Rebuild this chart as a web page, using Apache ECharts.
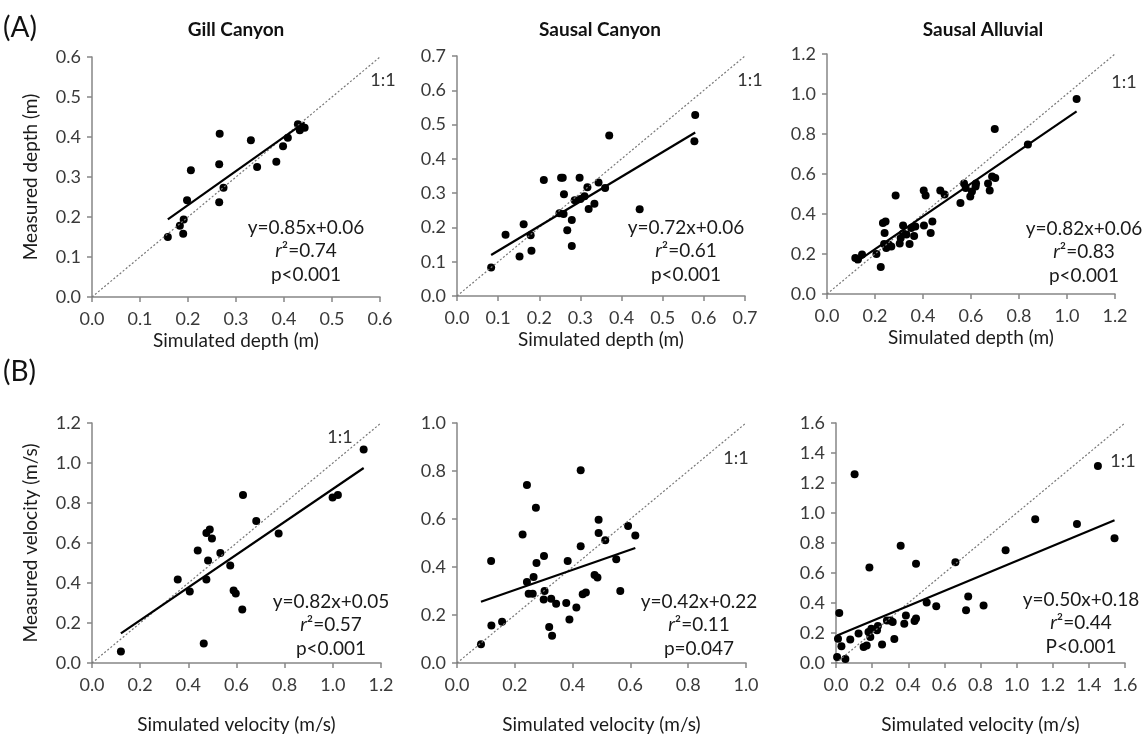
<!DOCTYPE html>
<html><head><meta charset="utf-8">
<script src="https://cdn.jsdelivr.net/npm/echarts@6/dist/echarts.min.js"></script>
<style>html,body{margin:0;padding:0;background:#fff}#c{width:1146px;height:737px}</style>
</head><body><div id="c"></div>
<script>
// ---- data ----
const siteTitles = ['Gill Canyon', 'Sausal Canyon', 'Sausal Alluvial'];
const rowLabels = ['(A)', '(B)'];
const xNames = ['Simulated depth (m)', 'Simulated velocity (m/s)'];
const yNames = ['Measured depth (m)', 'Measured velocity (m/s)'];

const gillDepthSim  = [0.158,0.183,0.190,0.191,0.198,0.206,0.265,0.266,0.265,0.274,0.331,0.344,0.384,0.398,0.408,0.429,0.433,0.443];
const gillDepthMeas = [0.150,0.178,0.158,0.194,0.242,0.317,0.332,0.408,0.237,0.273,0.392,0.325,0.338,0.377,0.398,0.432,0.417,0.423];

const sausalCanyonDepthSim  = [0.083,0.118,0.152,0.162,0.179,0.181,0.211,0.249,0.253,0.257,0.259,0.260,0.268,0.279,0.279,0.286,0.298,0.300,0.310,0.317,0.320,0.334,0.344,0.360,0.370,0.444,0.577,0.579];
const sausalCanyonDepthMeas = [0.083,0.179,0.115,0.209,0.177,0.132,0.338,0.241,0.345,0.345,0.239,0.297,0.192,0.222,0.146,0.279,0.345,0.283,0.291,0.317,0.254,0.269,0.331,0.315,0.468,0.253,0.451,0.528];

const sausalAlluvialDepthSim  = [0.118,0.129,0.146,0.206,0.224,0.233,0.244,0.240,0.238,0.247,0.257,0.268,0.286,0.303,0.307,0.317,0.317,0.331,0.344,0.351,0.363,0.368,0.404,0.403,0.411,0.432,0.439,0.472,0.490,0.556,0.571,0.578,0.597,0.604,0.619,0.621,0.671,0.678,0.688,0.701,0.699,0.837,1.040];
const sausalAlluvialDepthMeas = [0.180,0.172,0.197,0.200,0.135,0.355,0.363,0.305,0.250,0.230,0.247,0.238,0.493,0.252,0.280,0.342,0.302,0.297,0.250,0.330,0.290,0.338,0.342,0.518,0.492,0.305,0.363,0.518,0.497,0.455,0.552,0.530,0.488,0.513,0.537,0.553,0.552,0.518,0.588,0.580,0.825,0.747,0.975];

const gillVelSim  = [0.120,0.356,0.406,0.439,0.464,0.475,0.482,0.475,0.489,0.498,0.533,0.574,0.588,0.597,0.624,0.627,0.682,0.775,0.999,1.021,1.128];
const gillVelMeas = [0.058,0.417,0.358,0.563,0.097,0.650,0.513,0.417,0.668,0.622,0.550,0.488,0.363,0.347,0.268,0.840,0.710,0.647,0.828,0.840,1.067];

const sausalCanyonVelSim  = [0.083,0.118,0.119,0.156,0.227,0.242,0.242,0.248,0.262,0.265,0.273,0.275,0.301,0.303,0.300,0.319,0.326,0.329,0.343,0.378,0.383,0.389,0.413,0.428,0.428,0.435,0.446,0.476,0.486,0.490,0.490,0.513,0.551,0.565,0.592,0.617];
const sausalCanyonVelMeas = [0.078,0.425,0.156,0.172,0.535,0.742,0.338,0.289,0.289,0.358,0.647,0.417,0.446,0.300,0.265,0.150,0.268,0.114,0.247,0.250,0.425,0.181,0.231,0.803,0.486,0.286,0.294,0.367,0.356,0.597,0.542,0.511,0.432,0.300,0.571,0.531];

const sausalAlluvialVelSim  = [0.006,0.011,0.018,0.030,0.052,0.079,0.103,0.125,0.153,0.170,0.180,0.185,0.190,0.196,0.227,0.232,0.255,0.282,0.301,0.314,0.323,0.358,0.378,0.387,0.435,0.443,0.443,0.502,0.555,0.661,0.720,0.732,0.817,0.939,1.103,1.334,1.450,1.542];
const sausalAlluvialVelMeas = [0.040,0.162,0.333,0.111,0.027,0.156,1.258,0.196,0.107,0.116,0.207,0.636,0.173,0.229,0.218,0.247,0.124,0.284,0.284,0.273,0.160,0.782,0.262,0.316,0.280,0.296,0.662,0.404,0.378,0.671,0.351,0.444,0.384,0.751,0.958,0.927,1.313,0.831];

const fitSlopes     = [0.85, 0.72, 0.82, 0.82, 0.42, 0.50];
const fitIntercepts = [0.06, 0.06, 0.06, 0.05, 0.22, 0.18];
const fitEquations  = ['y=0.85x+0.06','y=0.72x+0.06','y=0.82x+0.06','y=0.82x+0.05','y=0.42x+0.22','y=0.50x+0.18'];
const fitR2         = ['0.74','0.61','0.83','0.57','0.11','0.44'];
const fitP          = ['p<0.001','p<0.001','p<0.001','p<0.001','p=0.047','P<0.001'];

const axisMax      = [0.6, 0.7, 1.2, 1.2, 1.0, 1.6];
const axisInterval = [0.1, 0.1, 0.2, 0.2, 0.2, 0.2];

// ---- layout (pixels) ----
const grids = [
  {left: 92,  top: 57,  width: 288, height: 240},
  {left: 457, top: 56,  width: 288, height: 240},
  {left: 827, top: 54,  width: 288, height: 240},
  {left: 92,  top: 423, width: 289, height: 240},
  {left: 457, top: 423, width: 289, height: 240},
  {left: 836, top: 423, width: 289, height: 240}
];
const statPos = [[306,228],[686,228],[1084,229],[331,602],[699,602],[1081,600]];
const onePos  = [[383,80],[750,80],[1124,82],[340,437],[736,458],[1123,461]];

const panels = [
  [gillDepthSim, gillDepthMeas],
  [sausalCanyonDepthSim, sausalCanyonDepthMeas],
  [sausalAlluvialDepthSim, sausalAlluvialDepthMeas],
  [gillVelSim, gillVelMeas],
  [sausalCanyonVelSim, sausalCanyonVelMeas],
  [sausalAlluvialVelSim, sausalAlluvialVelMeas]
];

const FONT = 'Lato';
const LABEL_COLOR = '#3a3a3a';
const AXIS_COLOR = '#868686';

const option = {
  backgroundColor: '#fff',
  animation: false,
  textStyle: {fontFamily: FONT},
  grid: grids.map(g => Object.assign({containLabel: false}, g)),
  xAxis: [], yAxis: [], series: [], graphic: []
};

panels.forEach((p, i) => {
  const row = i < 3 ? 0 : 1;
  const axisCommon = {
    gridIndex: i, type: 'value', min: 0, max: axisMax[i], interval: axisInterval[i],
    splitLine: {show: false},
    axisLine: {show: true, onZero: false, lineStyle: {color: AXIS_COLOR, width: 1.5}},
    axisTick: {show: true, inside: false, length: 5, lineStyle: {color: AXIS_COLOR, width: 1.5}},
    axisLabel: {color: LABEL_COLOR, fontSize: 18, fontFamily: FONT, margin: 13,
      formatter: v => v.toFixed(1)}
  };
  option.xAxis.push(Object.assign({}, axisCommon, {
    name: xNames[row], nameLocation: 'middle', nameGap: row === 0 ? 34 : 52,
    nameTextStyle: {color: '#1a1a1a', fontSize: 19, fontFamily: FONT}
  }));
  option.yAxis.push(Object.assign({}, axisCommon, {
    axisLabel: Object.assign({}, axisCommon.axisLabel, {margin: 11}),
    name: (i % 3 === 0) ? yNames[row] : '', nameLocation: 'middle', nameGap: 52,
    nameTextStyle: {color: '#1a1a1a', fontSize: 19, fontFamily: FONT}
  }));
  // 1:1 line
  option.series.push({
    type: 'line', xAxisIndex: i, yAxisIndex: i, symbol: 'none', silent: true,
    lineStyle: {color: '#777', width: 1.2, type: [2, 2]},
    data: [[0, 0], [axisMax[i], axisMax[i]]]
  });
  // regression line over the data's x range
  const xs = p[0];
  const xmin = Math.min(...xs), xmax = Math.max(...xs);
  option.series.push({
    type: 'line', xAxisIndex: i, yAxisIndex: i, symbol: 'none', silent: true,
    lineStyle: {color: '#000', width: 2.2},
    data: [[xmin, fitSlopes[i] * xmin + fitIntercepts[i]], [xmax, fitSlopes[i] * xmax + fitIntercepts[i]]]
  });
  // points
  option.series.push({
    type: 'scatter', xAxisIndex: i, yAxisIndex: i, symbol: 'circle', symbolSize: 8,
    itemStyle: {color: '#000', opacity: 1},
    data: xs.map((x, k) => [x, p[1][k]])
  });
  // stats text
  option.graphic.push({
    type: 'text', x: statPos[i][0], y: statPos[i][1] - 12,
    style: {
      text: '{n|' + fitEquations[i] + '}\n{it|r}{n|²=' + fitR2[i] + '}\n{n|' + fitP[i] + '}',
      align: 'center', verticalAlign: 'top',
      rich: {
        n: {fontSize: 19, fontFamily: FONT, fill: '#1a1a1a', lineHeight: 23.5},
        it: {fontSize: 19, fontFamily: FONT, fontStyle: 'italic', fill: '#1a1a1a', lineHeight: 23.5}
      }
    }
  });
  option.graphic.push({
    type: 'text', x: onePos[i][0], y: onePos[i][1],
    style: {text: '1:1', fontSize: 18, fontFamily: FONT, fill: '#333', align: 'center', verticalAlign: 'middle'}
  });
});

// site titles
[236, 600, 983].forEach((cx, k) => {
  option.graphic.push({
    type: 'text', x: cx, y: 30,
    style: {text: siteTitles[k], fontSize: 19, fontWeight: 'bold', fontFamily: FONT, fill: '#111',
      align: 'center', verticalAlign: 'middle'}
  });
});
// row labels
[[3, 28], [3, 372]].forEach((pos, k) => {
  option.graphic.push({
    type: 'text', x: pos[0], y: pos[1],
    style: {text: rowLabels[k], fontSize: 28, fontFamily: FONT, fill: '#111',
      align: 'left', verticalAlign: 'middle'}
  });
});

const chart = echarts.init(document.getElementById('c'), null, {renderer: 'canvas'});
chart.setOption(option);
</script>
</body></html>
